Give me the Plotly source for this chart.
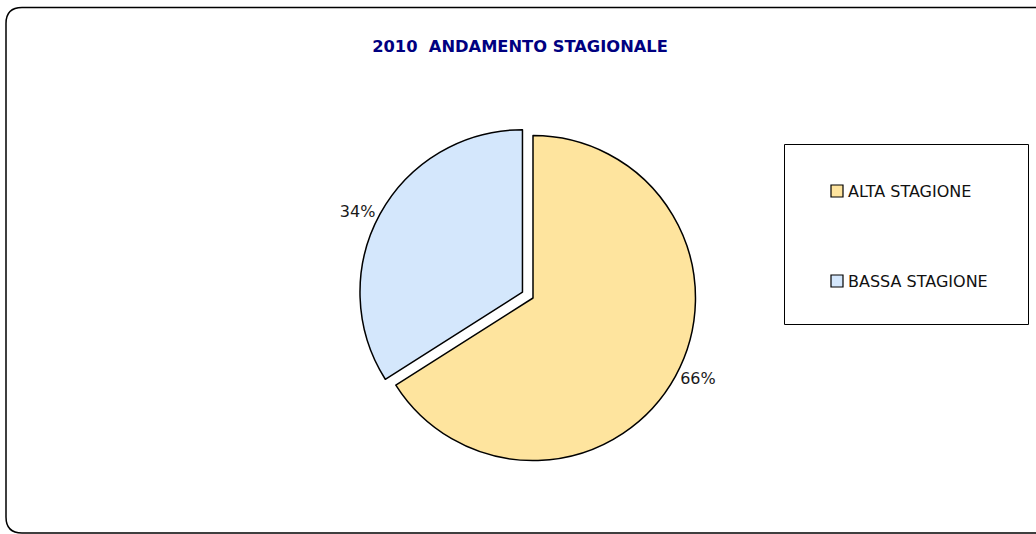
import plotly.graph_objects as go

# ---- data ----
title_text = "2010\u00a0 ANDAMENTO STAGIONALE"
categories = ["ALTA STAGIONE", "BASSA STAGIONE"]
values = [66, 34]
pulls = [0.0, 0.074]
colors = ["#FEE49E", "#D4E7FC"]

W, H = 1036, 534

def px(x):
    return x / W

def py(y):
    return 1 - y / H

fig = go.Figure()
fig.add_trace(go.Pie(
    labels=categories,
    values=values,
    sort=False,
    direction="clockwise",
    rotation=0,
    pull=pulls,
    marker=dict(colors=colors, line=dict(color="#000000", width=1.5)),
    textinfo="percent",
    texttemplate="%{percent:.0%}",
    textposition="outside",
    textfont=dict(family="DejaVu Sans", size=16, color="#1a1a1a"),
    domain=dict(x=[px(358.5), px(707.5)], y=[61.5 / H, 410.5 / H]),
    showlegend=False,
    hoverinfo="label+percent",
))

shapes = []
# outer rounded border
x0, x1, y0, y1, rr = 6, 1050, 7.5, 533, 16
path = (f"M {px(x0)},{py(y0+rr)} Q {px(x0)},{py(y0)} {px(x0+rr)},{py(y0)} "
        f"L {px(x1-rr)},{py(y0)} Q {px(x1)},{py(y0)} {px(x1)},{py(y0+rr)} "
        f"L {px(x1)},{py(y1-rr)} Q {px(x1)},{py(y1)} {px(x1-rr)},{py(y1)} "
        f"L {px(x0+rr)},{py(y1)} Q {px(x0)},{py(y1)} {px(x0)},{py(y1-rr)} Z")
shapes.append(dict(type="path", xref="paper", yref="paper", path=path,
                   line=dict(color="#000000", width=1.5), fillcolor="rgba(0,0,0,0)"))
# legend box
shapes.append(dict(type="rect", xref="paper", yref="paper",
                   x0=px(784.5), x1=px(1028.5), y0=py(324.5), y1=py(144.5),
                   line=dict(color="#000000", width=1), fillcolor="rgba(0,0,0,0)"))

annotations = []
leg_y = [191, 281]
for i, (lab, col) in enumerate(zip(categories, colors)):
    cy = leg_y[i]
    shapes.append(dict(type="rect", xref="paper", yref="paper",
                       x0=px(831), x1=px(843), y0=py(cy + 6), y1=py(cy - 6),
                       line=dict(color="#000000", width=1.2), fillcolor=col))
    annotations.append(dict(text=lab, xref="paper", yref="paper",
                            x=px(846), y=py(cy), xanchor="left", yanchor="middle",
                            showarrow=False,
                            font=dict(family="DejaVu Sans", size=16, color="#111111")))

fig.update_layout(
    width=W, height=H,
    margin=dict(l=0, r=0, t=0, b=0),
    paper_bgcolor="#FFFFFF",
    plot_bgcolor="#FFFFFF",
    title=dict(text=f"<b>{title_text}</b>", x=520 / W, xanchor="center",
               y=py(46), yanchor="middle", yref="paper",
               font=dict(family="DejaVu Sans", size=16.3, color="#000080")),
    shapes=shapes,
    annotations=annotations,
    showlegend=False,
)

fig.write_html("out.html",
               config={"displayModeBar": False},
               post_script="document.body.style.margin='0';document.body.style.overflow='hidden';")
